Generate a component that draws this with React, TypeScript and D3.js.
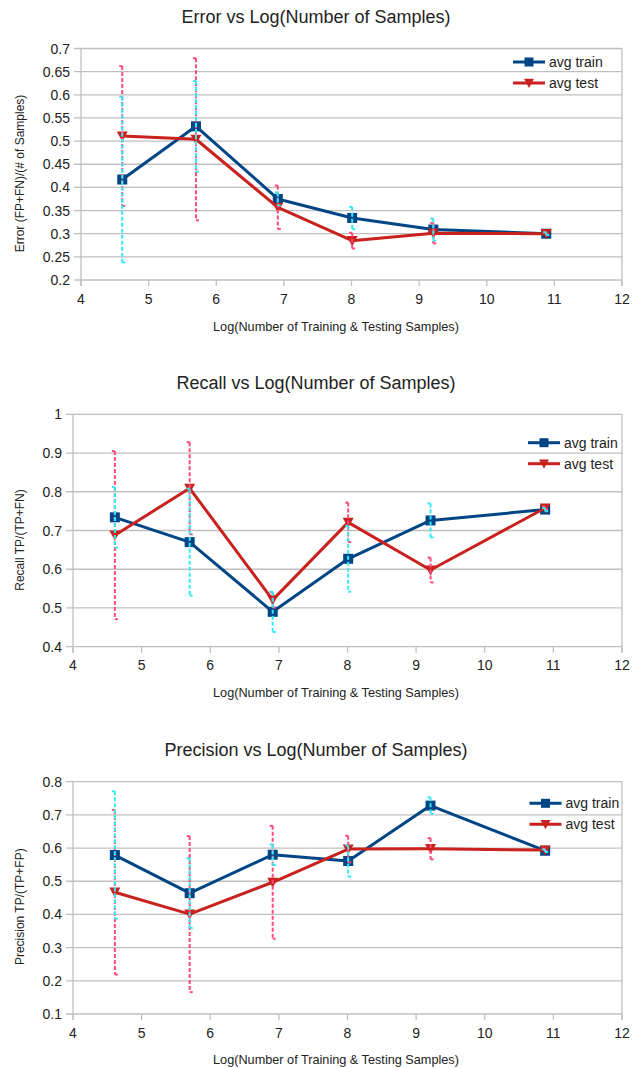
import React from 'react';
import * as d3 from 'd3';

// ---- data ----
const xValues = [4.61, 5.7, 6.91, 8.01, 9.21, 10.88];
const xTicks = [4, 5, 6, 7, 8, 9, 10, 11, 12];
const seriesNames = ['avg train', 'avg test'];

const errorTrain = [0.417, 0.532, 0.375, 0.334, 0.309, 0.3];
const errorTest = [0.511, 0.504, 0.357, 0.285, 0.301, 0.3];
const errorTrainSd = [0.179, 0.098, 0.014, 0.024, 0.024, 0.003];
const errorTestSd = [0.151, 0.175, 0.047, 0.017, 0.022, 0.003];
const errorTicks = [0.2, 0.25, 0.3, 0.35, 0.4, 0.45, 0.5, 0.55, 0.6, 0.65, 0.7];

const recallTrain = [0.734, 0.67, 0.49, 0.627, 0.726, 0.754];
const recallTest = [0.688, 0.809, 0.521, 0.721, 0.598, 0.758];
const recallTrainSd = [0.078, 0.138, 0.052, 0.085, 0.044, 0.004];
const recallTestSd = [0.217, 0.119, 0.02, 0.051, 0.032, 0.004];
const recallTicks = [0.4, 0.5, 0.6, 0.7, 0.8, 0.9, 1];

const precisionTrain = [0.579, 0.464, 0.58, 0.561, 0.728, 0.592];
const precisionTest = [0.467, 0.401, 0.497, 0.597, 0.598, 0.594];
const precisionTrainSd = [0.192, 0.105, 0.031, 0.047, 0.025, 0.004];
const precisionTestSd = [0.248, 0.235, 0.17, 0.04, 0.032, 0.004];
const precisionTicks = [0.1, 0.2, 0.3, 0.4, 0.5, 0.6, 0.7, 0.8];

// ---- style ----
const TRAIN = '#004586';
const TEST = '#c9211e';
const TRAIN_ERR = '#33eaf2';
const TEST_ERR = '#ff4a78';
const GRID = '#c0c0c0';
const FONT = '"Liberation Sans", Arial, sans-serif';
const TEXT = '#222';

const charts = [
  {
    title: 'Error vs Log(Number of Samples)',
    yTitle: 'Error (FP+FN)/(# of Samples)',
    train: errorTrain, test: errorTest, trainSd: errorTrainSd, testSd: errorTestSd,
    ticks: errorTicks,
    left: 81, right: 622, top: 48.5, bottom: 280,
    titleY: 23, xTitleY: 331, yTitleCY: 173.5, legendX: 513, legendY: 62,
  },
  {
    title: 'Recall vs Log(Number of Samples)',
    yTitle: 'Recall TP/(TP+FN)',
    train: recallTrain, test: recallTest, trainSd: recallTrainSd, testSd: recallTestSd,
    ticks: recallTicks,
    left: 73, right: 622, top: 414.3, bottom: 646.7,
    titleY: 389, xTitleY: 697, yTitleCY: 540, legendX: 528, legendY: 442.7,
  },
  {
    title: 'Precision vs Log(Number of Samples)',
    yTitle: 'Precision TP/(TP+FP)',
    train: precisionTrain, test: precisionTest, trainSd: precisionTrainSd, testSd: precisionTestSd,
    ticks: precisionTicks,
    left: 73, right: 622, top: 781.7, bottom: 1014,
    titleY: 756, xTitleY: 1064, yTitleCY: 906.7, legendX: 529.5, legendY: 803.3,
  },
];

const Square = ({ cx, cy, s = 10 }: any) => (
  <rect x={cx - s / 2} y={cy - s / 2} width={s} height={s} fill={TRAIN} />
);
const TriDown = ({ cx, cy, s = 11 }: any) => (
  <path d={`M${cx - s / 2},${cy - s * 0.42} L${cx + s / 2},${cy - s * 0.42} L${cx},${cy + s * 0.5} Z`} fill={TEST} />
);

function ErrorBars({ x, y, vals, sds, color }: any) {
  return (
    <g stroke={color} strokeWidth={2} fill="none">
      {vals.map((v: number, i: number) => {
        const px = x(xValues[i]);
        const y1 = y(v + sds[i]);
        const y2 = y(v - sds[i]);
        return (
          <g key={i}>
            <line x1={px} x2={px} y1={y1} y2={y2} strokeDasharray="4,2" />
            <line x1={px - 3} x2={px} y1={y1} y2={y1} />
            <line x1={px} x2={px + 3} y1={y2} y2={y2} />
          </g>
        );
      })}
    </g>
  );
}

function Chart({ c }: any) {
  const x = d3.scaleLinear().domain([4, 12]).range([c.left, c.right]);
  const y = d3.scaleLinear().domain([c.ticks[0], c.ticks[c.ticks.length - 1]]).range([c.bottom, c.top]);
  const line = d3.line<number>().x((_, i) => x(xValues[i])).y((d) => y(d));
  return (
    <g fontFamily={FONT} fill={TEXT}>
      <text x={316} y={c.titleY} textAnchor="middle" fontSize={18}>{c.title}</text>
      {c.ticks.map((t: number) => (
        <g key={t}>
          <line x1={c.left - 7} x2={c.right} y1={y(t)} y2={y(t)} stroke={GRID} strokeWidth={1.3} />
          <text x={c.left - 11} y={y(t) + 5} textAnchor="end" fontSize={14}>{String(t)}</text>
        </g>
      ))}
      <line x1={c.left} x2={c.left} y1={c.top} y2={c.bottom + 6} stroke={GRID} strokeWidth={1.3} />
      <line x1={c.right} x2={c.right} y1={c.top} y2={c.bottom + 6} stroke={GRID} strokeWidth={1.3} />
      {xTicks.map((t) => (
        <g key={t}>
          <line x1={x(t)} x2={x(t)} y1={c.bottom} y2={c.bottom + 6} stroke={GRID} strokeWidth={1.3} />
          <text x={x(t)} y={c.bottom + 23.5} textAnchor="middle" fontSize={14}>{String(t)}</text>
        </g>
      ))}
      <text x={336} y={c.xTitleY} textAnchor="middle" fontSize={12.7}>Log(Number of Training &amp; Testing Samples)</text>
      <text transform={`translate(24,${c.yTitleCY}) rotate(-90)`} textAnchor="middle" fontSize={12}>{c.yTitle}</text>
      <path d={line(c.train) || ''} fill="none" stroke={TRAIN} strokeWidth={3} strokeLinejoin="round" />
      {c.train.map((v: number, i: number) => <Square key={i} cx={x(xValues[i])} cy={y(v)} />)}
      <path d={line(c.test) || ''} fill="none" stroke={TEST} strokeWidth={3} strokeLinejoin="round" />
      {c.test.map((v: number, i: number) => <TriDown key={i} cx={x(xValues[i])} cy={y(v)} />)}
      <ErrorBars x={x} y={y} vals={c.test} sds={c.testSd} color={TEST_ERR} />
      <ErrorBars x={x} y={y} vals={c.train} sds={c.trainSd} color={TRAIN_ERR} />
      {seriesNames.map((n, k) => {
        const ly = c.legendY + k * 21;
        return (
          <g key={n}>
            <line x1={c.legendX} x2={c.legendX + 32} y1={ly} y2={ly} stroke={k === 0 ? TRAIN : TEST} strokeWidth={3} />
            {k === 0 ? <Square cx={c.legendX + 16} cy={ly} s={9} /> : <TriDown cx={c.legendX + 16} cy={ly} s={10} />}
            <text x={c.legendX + 36} y={ly + 5} fontSize={14}>{n}</text>
          </g>
        );
      })}
    </g>
  );
}

export default function App() {
  return (
    <svg width={643} height={1068} style={{ position: 'absolute', left: 0, top: 0, background: '#fff' }}>
      <rect width={643} height={1068} fill="#fff" />
      {charts.map((c, i) => <Chart key={i} c={c} />)}
    </svg>
  );
}
